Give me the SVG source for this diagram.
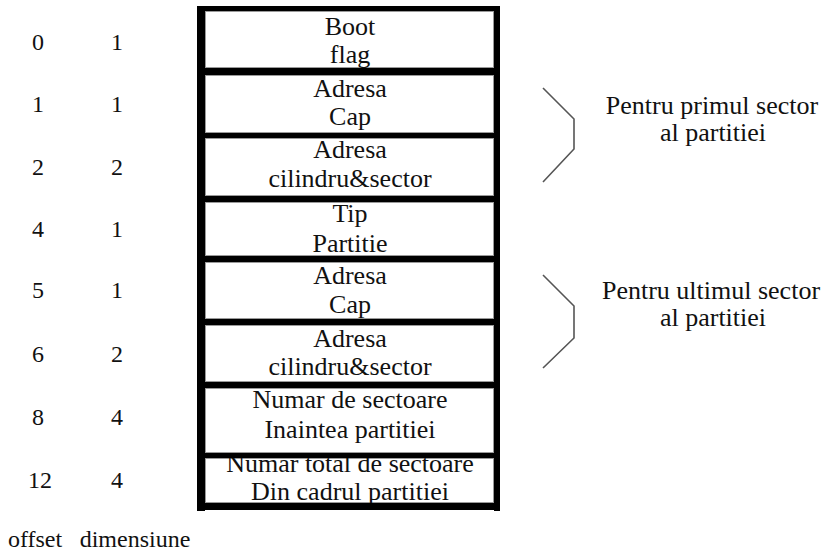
<svg xmlns="http://www.w3.org/2000/svg" width="826" height="553" viewBox="0 0 826 553">
<style>
  .cell { fill: #fff; stroke: #9a9a9a; stroke-width: 1; }
  .bar { fill: #000; }
  .br { fill: none; stroke: #555; stroke-width: 1.6; stroke-linejoin: miter; }
</style>
<rect width="826" height="553" fill="#fff"/>

<g id="offsets" font-family="Liberation Serif, serif" font-size="24" fill="#111" text-anchor="middle">
  <text x="38" y="50">0</text>
  <text x="38" y="112">1</text>
  <text x="38" y="175">2</text>
  <text x="38" y="237">4</text>
  <text x="38" y="298">5</text>
  <text x="38" y="362">6</text>
  <text x="38" y="425">8</text>
  <text x="40" y="488">12</text>
  <text x="35" y="547">offset</text>
</g>
<g id="sizes" font-family="Liberation Serif, serif" font-size="24" fill="#111" text-anchor="middle">
  <text x="117" y="50">1</text>
  <text x="117" y="112">1</text>
  <text x="117" y="175">2</text>
  <text x="117" y="237">1</text>
  <text x="117" y="298">1</text>
  <text x="117" y="362">2</text>
  <text x="117" y="425">4</text>
  <text x="117" y="488">4</text>
  <text x="135" y="547">dimensiune</text>
</g>

<g id="boot-flag" font-family="Liberation Serif, serif" font-size="26" fill="#111" text-anchor="middle">
  <rect class="cell" x="205.5" y="11.5" width="288" height="56"/>
  <text x="350" y="35">Boot</text>
  <text x="350" y="63">flag</text>
</g>
<g id="adresa-cap-1" font-family="Liberation Serif, serif" font-size="26" fill="#111" text-anchor="middle">
  <rect class="cell" x="205.5" y="75.5" width="288" height="57"/>
  <text x="350" y="97">Adresa</text>
  <text x="350" y="125">Cap</text>
</g>
<g id="adresa-cil-1" font-family="Liberation Serif, serif" font-size="26" fill="#111" text-anchor="middle">
  <rect class="cell" x="205.5" y="138.5" width="288" height="57"/>
  <text x="350" y="158">Adresa</text>
  <text x="350" y="187">cilindru&amp;sector</text>
</g>
<g id="tip-partitie" font-family="Liberation Serif, serif" font-size="26" fill="#111" text-anchor="middle">
  <rect class="cell" x="205.5" y="202.5" width="288" height="53"/>
  <text x="350" y="222">Tip</text>
  <text x="350" y="252">Partitie</text>
</g>
<g id="adresa-cap-2" font-family="Liberation Serif, serif" font-size="26" fill="#111" text-anchor="middle">
  <rect class="cell" x="205.5" y="262.5" width="288" height="56"/>
  <text x="350" y="284">Adresa</text>
  <text x="350" y="313">Cap</text>
</g>
<g id="adresa-cil-2" font-family="Liberation Serif, serif" font-size="26" fill="#111" text-anchor="middle">
  <rect class="cell" x="205.5" y="325.5" width="288" height="56"/>
  <text x="350" y="347">Adresa</text>
  <text x="350" y="375">cilindru&amp;sector</text>
</g>
<g id="nr-sectoare" font-family="Liberation Serif, serif" font-size="26" fill="#111" text-anchor="middle">
  <rect class="cell" x="205.5" y="388.5" width="288" height="64"/>
  <text x="350" y="408">Numar de sectoare</text>
  <text x="350" y="438">Inaintea partitiei</text>
</g>
<g id="nr-total" font-family="Liberation Serif, serif" font-size="26" fill="#111" text-anchor="middle">
  <rect class="cell" x="205.5" y="458.5" width="288" height="44"/>
  <text x="350" y="472">Numar total de sectoare</text>
  <text x="350" y="500">Din cadrul partitiei</text>
</g>

<g id="frame">
  <rect class="bar" x="197" y="6" width="303" height="5"/>
  <rect class="bar" x="197" y="6" width="8" height="505"/>
  <rect class="bar" x="494" y="6" width="6" height="505"/>
  <rect class="bar" x="197" y="503" width="303" height="7"/>
  <rect class="bar" x="197" y="68" width="303" height="7"/>
  <rect class="bar" x="197" y="133" width="303" height="5"/>
  <rect class="bar" x="197" y="196" width="303" height="6"/>
  <rect class="bar" x="197" y="256" width="303" height="6"/>
  <rect class="bar" x="197" y="319" width="303" height="6"/>
  <rect class="bar" x="197" y="382" width="303" height="6"/>
  <rect class="bar" x="197" y="453" width="303" height="5"/>
</g>

<g id="connectors">
  <polyline class="br" points="543,88 574,119 574,149 543,182"/>
  <polyline class="br" points="543,275 574,306 574,338 543,368"/>
</g>

<g id="label-primul" font-family="Liberation Serif, serif" font-size="26" fill="#111" text-anchor="middle">
  <text x="712" y="114">Pentru primul sector</text>
  <text x="713" y="141">al partitiei</text>
</g>
<g id="label-ultimul" font-family="Liberation Serif, serif" font-size="26" fill="#111" text-anchor="middle">
  <text x="711" y="299">Pentru ultimul sector</text>
  <text x="713" y="326">al partitiei</text>
</g>
</svg>
